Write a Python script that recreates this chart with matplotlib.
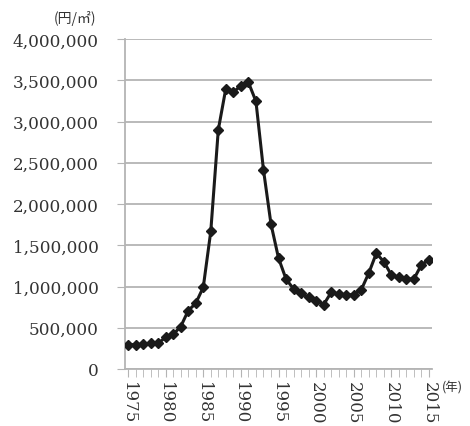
import matplotlib
matplotlib.use('Agg')
import matplotlib.pyplot as plt
from matplotlib.ticker import FuncFormatter, MultipleLocator

# Land price (yen per m2), 1975-2015
years = list(range(1975, 2016))
prices = [295000, 295000, 300000, 310000, 310000, 385000, 420000, 513000, 707000, 796000,
          990000, 1669000, 2900000, 3400000, 3354000, 3434000, 3475000, 3245000, 2416000, 1758000,
          1345000, 1091000, 970000, 917000, 869000, 828000, 780000, 929000, 909000, 900000,
          900000, 961000, 1163000, 1402000, 1301000, 1139000, 1111000, 1091000, 1091000, 1265000,
          1321000]
xtick_years = [1975, 1980, 1985, 1990, 1995, 2000, 2005, 2010, 2015]

serif = ['DejaVu Serif']
cjk = ['Noto Sans CJK JP', 'DejaVu Sans']

fig = plt.figure(figsize=(4.7, 4.27), dpi=100)
ax = fig.add_axes([125/470, 57/427, 307/470, 330/427])

ax.plot(years, prices, color='#1a1a1a', lw=2.2, marker='D', markersize=5.5, zorder=3)

ax.set_xlim(1974.6, 2015.4)
ax.set_ylim(0, 4000000)
ax.yaxis.set_major_locator(MultipleLocator(500000))
ax.yaxis.set_major_formatter(FuncFormatter(lambda v, p: f'{int(v):,}'))
ax.set_xticks(xtick_years)
ax.set_xticks(years, minor=True)
ax.set_xticklabels([str(y) for y in xtick_years], rotation=-90, family=serif, fontsize=12)
for lab in ax.get_yticklabels():
    lab.set_family(serif)
    lab.set_fontsize(12.2)

ax.grid(axis='y', color='#b4b4b4', lw=1.3)
ax.set_axisbelow(True)
for s in ['top', 'right']:
    ax.spines[s].set_visible(False)
for s in ['left', 'bottom']:
    ax.spines[s].set_color('#b4b4b4')
    ax.spines[s].set_linewidth(1.3)
ax.tick_params(axis='y', length=6, color='#b4b4b4', pad=13, labelcolor='#333333')
ax.tick_params(axis='x', which='both', direction='out', length=6, color='#b4b4b4',
               pad=3, labelcolor='#333333')

fig.text(75/470, 1 - 18/427, '(円/㎡)', family=cjk, fontsize=10, ha='center', va='center',
         color='#333333')
fig.text(452/470, 1 - 388/427, '(年)', family=cjk, fontsize=9, ha='center', va='center',
         color='#333333')

fig.savefig('out.png', dpi=100)
